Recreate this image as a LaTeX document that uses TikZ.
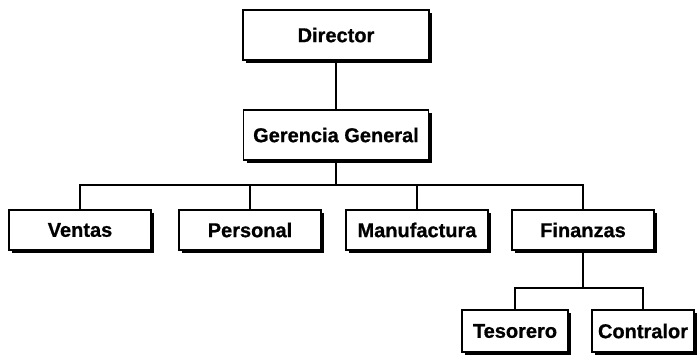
\documentclass[tikz,border=0pt]{standalone}
\usepackage{fontspec}
\setmainfont{Liberation Sans}[BoldFeatures={FakeBold=0.8}]
\usetikzlibrary{shadows}
\begin{document}
\begin{tikzpicture}[x=1pt,y=-1pt,
  unit/.style={draw, line width=1.6pt, fill=white, inner sep=0pt,
    font=\bfseries\fontsize{20}{24}\selectfont,
    drop shadow={shadow xshift=3pt, shadow yshift=-3pt, opacity=1, fill=black}},
  dept/.style={unit, minimum width=142pt, minimum height=40pt},
  link/.style={line width=1.6pt}]
\useasboundingbox (0,0) rectangle (699,361);

% top of the chart
\node[unit, minimum width=186pt, minimum height=50pt] (dir) at (336,35) {Director};
\node[unit, minimum width=185pt, minimum height=50pt] (gg) at (336,135) {Gerencia General};

% departments
\node[dept] (ven) at (80,230) {Ventas};
\node[dept] (per) at (250,230) {Personal};
\node[dept] (man) at (417,230) {Manufactura};
\node[dept] (fin) at (583,230) {Finanzas};

% under Finanzas
\node[unit, minimum width=106pt, minimum height=42pt] (tes) at (515,331) {Tesorero};
\node[unit, minimum width=102pt, minimum height=42pt] (con) at (643,331) {Contralor};

% rails of the tree
\coordinate (bus) at (0,185);
\coordinate (subbus) at (0,288);

\draw[link] (dir.south) -- (gg.north);
\draw[link] (gg.south) -- (gg.south |- bus);
\draw[link] (ven.north) -- (ven.north |- bus) -- (fin.north |- bus) -- (fin.north);
\draw[link] (per.north) -- (per.north |- bus);
\draw[link] (man.north) -- (man.north |- bus);

\draw[link] (fin.south) -- (fin.south |- subbus);
\draw[link] (tes.north) -- (tes.north |- subbus) -- (con.north |- subbus) -- (con.north);
\end{tikzpicture}
\end{document}
